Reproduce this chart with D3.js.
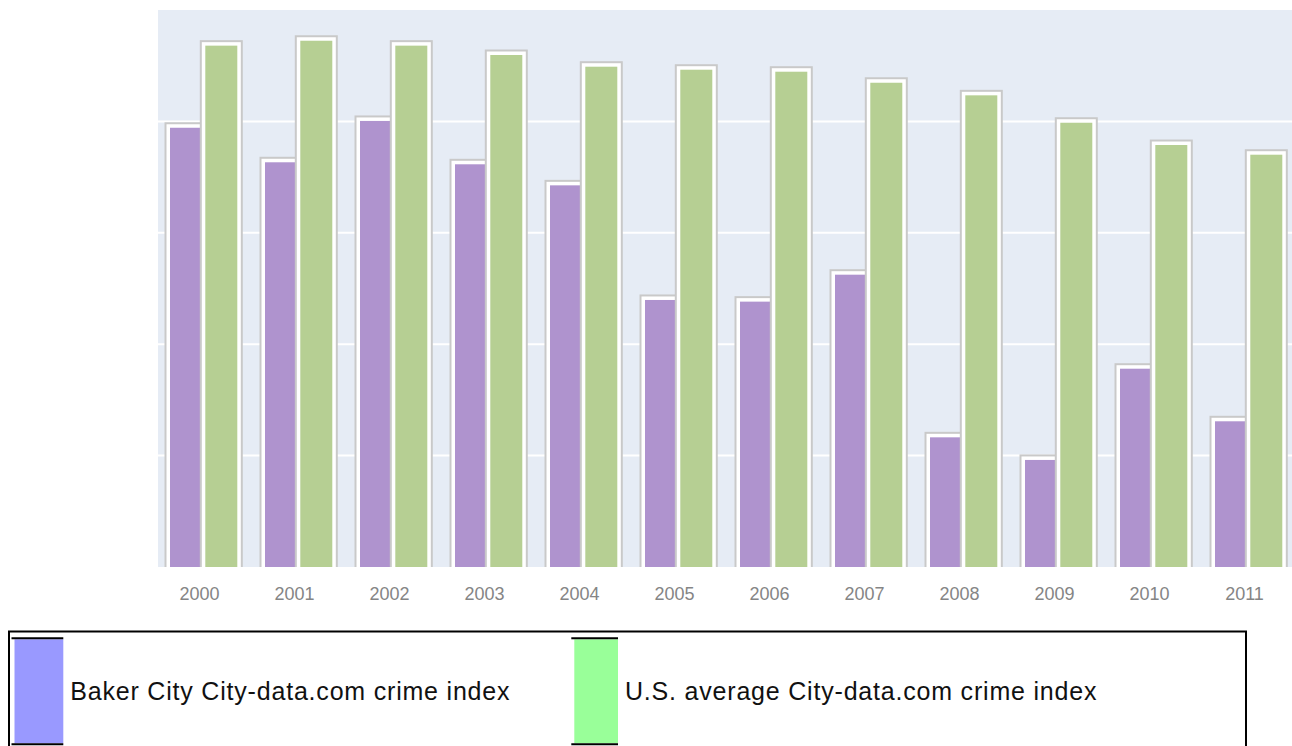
<!DOCTYPE html>
<html>
<head>
<meta charset="utf-8">
<script src="https://cdn.jsdelivr.net/npm/d3@7/dist/d3.min.js"></script>
<style>
  html, body { margin: 0; padding: 0; background: #fff; overflow: hidden; }
  svg { display: block; }
  text { font-family: "Liberation Sans", Arial, Helvetica, sans-serif; }
</style>
</head>
<body>
<svg id="chart" width="1292" height="746"></svg>
<script>
// Crime index by year
const years = ["2000","2001","2002","2003","2004","2005","2006","2007","2008","2009","2010","2011"];
const bakerCity = [394.3, 363.3, 400.4, 361.5, 342.6, 239.7, 238.2, 262.4, 116.4, 96.1, 178.0, 130.8];
const usAverage = [468.0, 472.4, 468.0, 459.6, 449.1, 446.4, 444.6, 434.7, 423.4, 398.8, 378.8, 370.1];
const yTicks = [0, 100, 200, 300, 400, 500];

const seriesNames = ["Baker City City-data.com crime index", "U.S. average City-data.com crime index"];
const barColors = ["#af93ce", "#b6cf93"];
const swatchColors = ["#9999ff", "#99ff99"];

const svg = d3.select("#chart");

// the plot runs a little past the right edge of the page and is clipped there
const plot = { left: 158, right: 1298, top: 10, bottom: 567 };
const viewRight = 1292;

const x = d3.scaleBand().domain(years).range([plot.left, plot.right]).padding(0);
const xSeries = d3.scalePoint().domain([0, 1]).range([12, 47.3]);
const y = d3.scaleLinear().domain([0, 500]).range([plot.bottom, plot.top]);
const barW = 32;

// plot background
svg.append("rect")
  .attr("x", plot.left).attr("y", plot.top)
  .attr("width", viewRight - plot.left).attr("height", plot.bottom - plot.top)
  .attr("fill", "#e6ecf5");

// horizontal gridlines
svg.append("g").selectAll("line")
  .data(yTicks.filter(t => t > 0 && t < 500))
  .join("line")
  .attr("x1", plot.left).attr("x2", viewRight)
  .attr("y1", d => y(d)).attr("y2", d => y(d))
  .attr("stroke", "#ffffff").attr("stroke-width", 2);

// bars: gray outline, white frame, coloured fill
const series = [bakerCity, usAverage];
const barsG = svg.append("g");
years.forEach((yr, i) => {
  series.forEach((vals, s) => {
    const bx = x(yr) + xSeries(s);
    const by = y(vals[i]);
    const g = barsG.append("g");
    g.append("rect")
      .attr("x", bx - 5.5).attr("y", by - 5.5)
      .attr("width", barW + 11).attr("height", plot.bottom - by + 5.5)
      .attr("fill", "#c9c9c9");
    g.append("rect")
      .attr("x", bx - 3.5).attr("y", by - 3.5)
      .attr("width", barW + 7).attr("height", plot.bottom - by + 3.5)
      .attr("fill", "#ffffff");
    g.append("rect")
      .attr("x", bx).attr("y", by)
      .attr("width", barW).attr("height", plot.bottom - by)
      .attr("fill", barColors[s]);
  });
});

// x axis labels
svg.append("g").selectAll("text")
  .data(years)
  .join("text")
  .attr("x", d => x(d) + x.bandwidth() / 2 - 6)
  .attr("y", 600)
  .attr("text-anchor", "middle")
  .attr("font-size", 18)
  .attr("fill", "#858585")
  .text(d => d);

// legend
const legend = svg.append("g");
legend.append("rect")
  .attr("x", 9).attr("y", 631.5)
  .attr("width", 1237).attr("height", 200)
  .attr("fill", "none").attr("stroke", "#000").attr("stroke-width", 2);

const legendItems = [
  { x0: 11.5, x1: 63.3 },
  { x0: 571.3, x1: 618 }
];
legendItems.forEach((it, s) => {
  legend.append("rect")
    .attr("x", it.x0 + 3).attr("y", 639.3)
    .attr("width", it.x1 - it.x0 - 3).attr("height", 104)
    .attr("fill", swatchColors[s]);
  [638.3, 744.3].forEach(ly => {
    legend.append("line")
      .attr("x1", it.x0).attr("x2", it.x1)
      .attr("y1", ly).attr("y2", ly)
      .attr("stroke", "#000").attr("stroke-width", 2);
  });
  legend.append("text")
    .attr("x", it.x1 + 7).attr("y", 700)
    .attr("font-size", 25)
    .attr("letter-spacing", 0.8)
    .attr("fill", "#111")
    .text(seriesNames[s]);
});
</script>
</body>
</html>
